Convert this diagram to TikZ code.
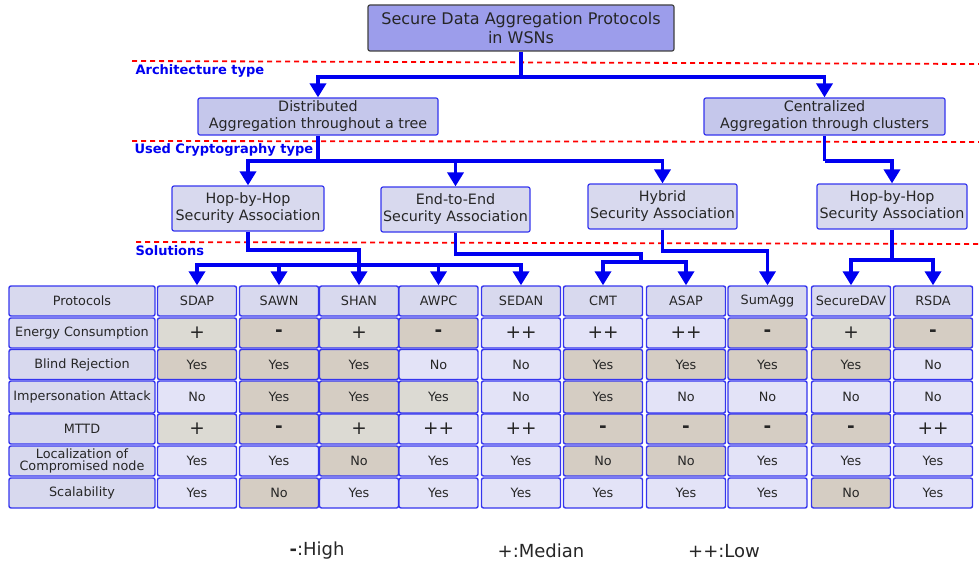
\documentclass[tikz,border=0pt]{standalone}
\usepackage{fontspec}
\setmainfont{DejaVu Sans}
\usetikzlibrary{arrows.meta}

\definecolor{titlefill}{HTML}{9C9DEB}
\definecolor{archfill}{HTML}{C5C7EB}
\definecolor{cryptfill}{HTML}{D8D9EE}
\definecolor{lightcell}{HTML}{E3E3F7}
\definecolor{graycell}{HTML}{DCDAD3}
\definecolor{tancell}{HTML}{D5CDC3}
\definecolor{boxline}{HTML}{3535EE}
\definecolor{linkblue}{HTML}{0000F0}

\newcommand\sHigh{\textbf{-}}
\newcommand\sMed{+}
\newcommand\sLow{++}

\tikzset{
  box/.style={draw=boxline, line width=1.2pt, rounded corners=2pt, align=center,
    text=black!85, inner sep=0pt, font=\fontsize{14.3}{17}\selectfont},
  cell/.style={draw=boxline, line width=1.4pt, rounded corners=2pt, align=center,
    text=black!85, inner sep=0pt, minimum width=79, minimum height=30,
    fill=lightcell, font=\fontsize{12.8}{14}\selectfont},
  head/.style={cell, fill=cryptfill},
  rowname/.style={cell, fill=cryptfill, minimum width=146, font=\fontsize{12.8}{13}\selectfont},
  sign/.style={cell, font=\fontsize{18.5}{18}\selectfont},
  level/.style={text=linkblue, anchor=west, font=\bfseries\fontsize{13}{15}\selectfont},
  sep/.style={red, line width=1.8pt, dash pattern=on 5pt off 4pt},
  link/.style={linkblue, line width=3.5pt},
  arr/.style={link, -{Triangle[width=16pt,length=14pt]}},
}

\begin{document}
\begin{tikzpicture}[x=1pt,y=-1pt]
\useasboundingbox (0,0) rectangle (979,567);

% tree
\node[box, fill=titlefill, draw=black!75, minimum width=306, minimum height=46,
  font=\fontsize{16}{19}\selectfont] (title) at (521,28) {Secure Data Aggregation Protocols\\ in WSNs};
\node[box, fill=archfill, minimum width=240, minimum height=37] (dist) at (318,116.5) {Distributed\\Aggregation throughout a tree};
\node[box, fill=archfill, minimum width=241, minimum height=37] (cent) at (824.5,116.5) {Centralized\\Aggregation through clusters};
\node[box, fill=cryptfill, minimum width=152, minimum height=45] (hop1) at (248,208.5) {Hop-by-Hop\\Security Association};
\node[box, fill=cryptfill, minimum width=149, minimum height=45] (e2e) at (455.5,209.5) {End-to-End\\Security Association};
\node[box, fill=cryptfill, minimum width=149, minimum height=45] (hybrid) at (662.5,206.5) {Hybrid\\Security Association};
\node[box, fill=cryptfill, minimum width=150, minimum height=45] (hop2) at (892,206.5) {Hop-by-Hop\\Security Association};

\draw[sep] (132,61) -- (979,64);
\draw[sep] (132,141) -- (979,142);
\draw[sep] (136,242) -- (979,244);
\node[level] (archlbl) at (132,71) {Architecture type};
\node[level] (cryptlbl) at (131,150) {Used Cryptography type};
\node[level] (sollbl) at (132,251) {Solutions};

% table
\node[rowname] (protocols) at (82,301) {Protocols};
\node[rowname] (energy) at (82,333) {Energy Consumption};
\node[rowname] (blind) at (82,364.5) {Blind Rejection};
\node[rowname, minimum height=32] (imper) at (82,397) {Impersonation Attack};
\node[rowname] (mttd) at (82,429) {MTTD};
\node[rowname, font=\fontsize{12.8}{12.5}\selectfont] (local) at (82,461) {Localization of\\Compromised node};
\node[rowname] (scal) at (82,493) {Scalability};

\foreach \p/\x in {SDAP/197,SAWN/279,SHAN/359,AWPC/438.5,SEDAN/521,CMT/603,ASAP/686,SumAgg/767.5,SecureDAV/851,RSDA/933}
  \node[head] (\p) at (\x,301) {\p};

\foreach \p/\v/\f in {SDAP/\sMed/graycell,SAWN/\sHigh/tancell,SHAN/\sMed/graycell,AWPC/\sHigh/tancell,SEDAN/\sLow/lightcell,CMT/\sLow/lightcell,ASAP/\sLow/lightcell,SumAgg/\sHigh/tancell,SecureDAV/\sMed/graycell,RSDA/\sHigh/tancell}
  \node[sign, fill=\f] (energy\p) at (\p |- energy) {\v};
\foreach \p/\v/\f in {SDAP/Yes/tancell,SAWN/Yes/tancell,SHAN/Yes/tancell,AWPC/No/lightcell,SEDAN/No/lightcell,CMT/Yes/tancell,ASAP/Yes/tancell,SumAgg/Yes/tancell,SecureDAV/Yes/tancell,RSDA/No/lightcell}
  \node[cell, fill=\f] (blind\p) at (\p |- blind) {\v};
\foreach \p/\v/\f in {SDAP/No/lightcell,SAWN/Yes/tancell,SHAN/Yes/tancell,AWPC/Yes/graycell,SEDAN/No/lightcell,CMT/Yes/tancell,ASAP/No/lightcell,SumAgg/No/lightcell,SecureDAV/No/lightcell,RSDA/No/lightcell}
  \node[cell, fill=\f, minimum height=32] (imper\p) at (\p |- imper) {\v};
\foreach \p/\v/\f in {SDAP/\sMed/graycell,SAWN/\sHigh/tancell,SHAN/\sMed/graycell,AWPC/\sLow/lightcell,SEDAN/\sLow/lightcell,CMT/\sHigh/tancell,ASAP/\sHigh/tancell,SumAgg/\sHigh/tancell,SecureDAV/\sHigh/tancell,RSDA/\sLow/lightcell}
  \node[sign, fill=\f] (mttd\p) at (\p |- mttd) {\v};
\foreach \p/\v/\f in {SDAP/Yes/lightcell,SAWN/Yes/lightcell,SHAN/No/tancell,AWPC/Yes/lightcell,SEDAN/Yes/lightcell,CMT/No/tancell,ASAP/No/tancell,SumAgg/Yes/lightcell,SecureDAV/Yes/lightcell,RSDA/Yes/lightcell}
  \node[cell, fill=\f] (local\p) at (\p |- local) {\v};
\foreach \p/\v/\f in {SDAP/Yes/lightcell,SAWN/No/tancell,SHAN/Yes/lightcell,AWPC/Yes/lightcell,SEDAN/Yes/lightcell,CMT/Yes/lightcell,ASAP/Yes/lightcell,SumAgg/Yes/lightcell,SecureDAV/No/tancell,RSDA/Yes/lightcell}
  \node[cell, fill=\f] (scal\p) at (\p |- scal) {\v};

% connectors
\coordinate (j0) at (521,77);
\draw[link] (title) -- (j0);
\draw[arr] (j0) -| (dist);
\draw[arr] (j0) -| (cent);

\coordinate (j1) at (318,161);
\draw[link] (dist) -- (j1);
\foreach \n in {hop1,e2e,hybrid} \draw[arr] (j1) -| (\n);
\coordinate (j2) at (824.5,161);
\draw[link] (cent) -- (j2);
\draw[arr] (j2) -| (hop2);

\coordinate (j3) at (359,265);
\draw[link] (hop1) |- (359,250) -- (j3);
\foreach \p in {SDAP,SAWN,SHAN,AWPC,SEDAN} \draw[arr] (j3) -| (\p);
\coordinate (j4) at (641,262);
\draw[link] (e2e) |- (641,254) -- (j4);
\foreach \p in {CMT,ASAP} \draw[arr] (j4) -| (\p);
\draw[arr] (hybrid) |- (767.5,251) -- (SumAgg);
\coordinate (j5) at (892,260);
\draw[link] (hop2) -- (j5);
\foreach \p in {SecureDAV,RSDA} \draw[arr] (j5) -| (\p);

% legend
\node[text=black!85, font=\fontsize{18}{20}\selectfont] (lhigh) at (317,551) {\sHigh:High};
\node[text=black!85, font=\fontsize{18}{20}\selectfont] (lmed) at (541,551) {\sMed:Median};
\node[text=black!85, font=\fontsize{18}{20}\selectfont] (llow) at (724,551) {\sLow:Low};
\end{tikzpicture}
\end{document}
